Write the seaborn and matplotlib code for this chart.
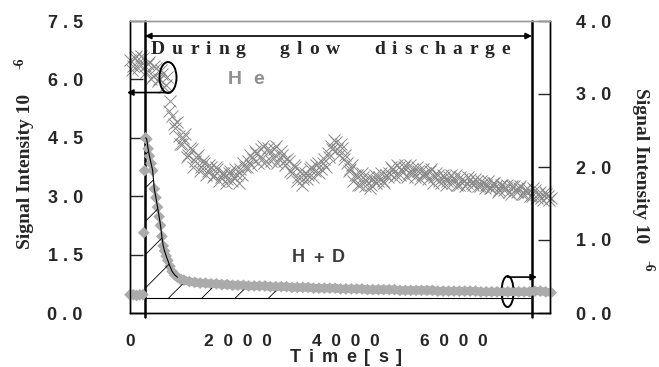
import numpy as np
import pandas as pd
import matplotlib
matplotlib.use("Agg")
import matplotlib.pyplot as plt
from matplotlib.patches import Ellipse
import seaborn as sns

# He signal (left axis, x10^-6): two interleaved scans, 60 s apart each
he_val_a = [6.5, 6.35, 6.6, 6.4, 6.55,
            6.2, 6.45, 6.1, 6.3, 6.0, 6.15, 5.85,
            5.2, 5.05, 4.75, 4.55, 4.35, 4.6, 4.05, 4.2, 3.9, 4.05,
            3.75, 3.85, 3.65, 3.75, 3.55, 3.7, 3.5, 3.6, 3.45, 3.65,
            3.5, 3.55, 3.7, 3.85, 3.75, 4.05, 3.95, 4.1, 4.0, 4.3,
            3.9, 4.15, 4.0, 4.3, 3.95, 4.05, 3.8, 3.9, 3.6, 3.75,
            3.5, 3.3, 3.6, 3.55, 3.75, 3.65, 3.85, 3.7, 3.95, 4.1,
            4.3, 4.45, 4.2, 4.35, 3.95, 3.85, 3.7, 3.4, 3.55, 3.3,
            3.5, 3.4, 3.2, 3.45, 3.35, 3.5, 3.4, 3.55, 3.6, 3.7,
            3.55, 3.75, 3.65, 3.8, 3.6, 3.7, 3.5, 3.65, 3.55, 3.6,
            3.45, 3.7, 3.5, 3.55, 3.35, 3.5, 3.4, 3.55, 3.45, 3.3,
            3.5, 3.4, 3.35, 3.45, 3.3, 3.4, 3.25, 3.35, 3.3, 3.2,
            3.35, 3.25, 3.15, 3.3, 3.2, 3.1, 3.25, 3.15, 3.2, 3.05,
            3.15, 3.1, 3.0, 3.15, 3.05, 2.95, 3.1, 3.0, 2.95]
he_val_b = [6.25, 6.55, 6.3, 6.6, 6.35,
            6.4, 6.0, 6.35, 5.95, 6.25, 5.8, 6.05,
            5.45, 4.85, 4.9, 4.35, 4.5, 4.0, 4.25, 3.75, 4.0, 3.65,
            3.9, 3.55, 3.8, 3.5, 3.75, 3.4, 3.6, 3.35, 3.6, 3.4, 3.7, 3.35,
            3.55, 3.75, 3.9, 3.8, 4.15, 3.85, 4.2,
            3.85, 4.25, 3.9, 4.2, 3.85, 4.15, 3.9,
            3.95, 3.65, 3.8, 3.4, 3.65, 3.45,
            3.45, 3.7, 3.5, 3.8, 3.6, 3.85, 3.75,
            4.0, 4.2, 4.4, 4.05, 4.25,
            4.05, 3.65, 3.8,
            3.55, 3.3, 3.6, 3.25, 3.5, 3.3, 3.55, 3.4, 3.6, 3.35, 3.5,
            3.75, 3.5, 3.8, 3.55, 3.75, 3.5, 3.8, 3.6, 3.75, 3.45, 3.7, 3.55, 3.65,
            3.35, 3.6, 3.4, 3.55, 3.3, 3.5, 3.35, 3.55, 3.3, 3.45, 3.25, 3.5,
            3.35, 3.45, 3.25, 3.4,
            3.2, 3.4, 3.2, 3.35, 3.1, 3.3, 3.15, 3.3, 3.05, 3.25, 3.1, 3.25,
            3.05, 3.2, 3.0, 3.2,
            2.95, 3.1, 2.9, 3.05, 2.9]
he_time_a = np.arange(len(he_val_a)) * 60
he_time_b = 30 + np.arange(len(he_val_b)) * 60

# H + D signal (right axis, x10^-6)
hd_time_early = [0, 60, 120, 180, 240, 255, 270, 290, 310, 335, 360, 390,
                 420, 450, 480, 510, 540, 565, 590, 615, 640, 670, 700,
                 740, 780, 830, 880, 940, 1000]
hd_val_early = [0.25, 0.25, 0.24, 0.25, 0.25, 1.1, 1.95, 2.4, 2.38, 2.25,
                2.15, 2.05, 1.95, 1.7, 1.58, 1.45, 1.32, 1.2, 1.05, 0.92,
                0.85, 0.78, 0.72, 0.64, 0.57, 0.52, 0.49, 0.46, 0.45]
hd_val_tail = [0.43, 0.42, 0.41, 0.41, 0.40, 0.40, 0.39, 0.39, 0.38, 0.38,
               0.38, 0.37, 0.37, 0.37, 0.37, 0.36, 0.36, 0.36, 0.36, 0.35,
               0.35, 0.35, 0.35, 0.34, 0.34, 0.34, 0.34, 0.34, 0.33, 0.33,
               0.33, 0.33, 0.33, 0.32, 0.32, 0.32, 0.32, 0.32, 0.32, 0.31,
               0.31, 0.31, 0.31, 0.31, 0.31, 0.31, 0.30, 0.30, 0.30, 0.30,
               0.30, 0.30, 0.30, 0.30, 0.29, 0.29, 0.29, 0.29, 0.29, 0.29,
               0.29, 0.29, 0.29, 0.29, 0.30, 0.30, 0.29, 0.28]
hd_time_tail = 1100 + np.arange(len(hd_val_tail)) * 100

discharge_start = 280
discharge_end = 7440
hatch_end = 3100
baseline = 0.205

left_ticks = [0, 1.5, 3.0, 4.5, 6.0, 7.5]
left_labels = ["0 . 0", "1 . 5", "3 . 0", "4 . 5", "6 . 0", "7 . 5"]
right_ticks = [0, 1, 2, 3, 4]
right_labels = ["0 . 0", "1 . 0", "2 . 0", "3 . 0", "4 . 0"]
x_ticks = [0, 2000, 4000, 6000]
x_labels = ["0", "2  0  0  0", "4  0  0  0", "6  0  0  0"]

he = pd.DataFrame({"t": np.concatenate([he_time_a, he_time_b]),
                   "v": he_val_a + he_val_b})
hd = pd.DataFrame({"t": np.concatenate([hd_time_early, hd_time_tail]),
                   "v": hd_val_early + hd_val_tail})

sns.set_style("white")
plt.rcParams["font.family"] = ["Liberation Sans", "DejaVu Sans"]
plt.rcParams["hatch.linewidth"] = 0.6

fig = plt.figure(figsize=(6.59, 3.67), dpi=100)
ax = fig.add_axes([130 / 659, 54 / 367, 420 / 659, 292 / 367])
ax2 = ax.twinx()
renderer = fig.canvas.get_renderer()


def tracked_text(x, y, s, gap, space, **kw):
    """Write s letter by letter from pixel (x, y) with extra gap between letters."""
    for ch in s:
        if ch == " ":
            x += space
            continue
        t = fig.text(x / 659, 1 - y / 367, ch, ha="left", va="center", **kw)
        x += t.get_window_extent(renderer).width + gap


# He crosses on the left axis
sns.scatterplot(data=he, x="t", y="v", ax=ax, marker="x", s=75,
                color="#8a8a8a", linewidth=0.7, clip_on=False, legend=False)

# H + D on the right axis
tail = hd[hd["t"] >= 880]
sns.lineplot(data=tail, x="t", y="v", ax=ax2, color="#ababab", lw=6,
             clip_on=False, legend=False)
sns.scatterplot(data=hd, x="t", y="v", ax=ax2, marker="D", s=36,
                color="#ababab", edgecolor="none", clip_on=False, legend=False)
decay = hd[(hd["t"] >= 290) & (hd["t"] <= 900)]
ax2.plot(decay["t"], decay["v"], color="black", lw=0.8)

# hatched area between baseline and the H + D curve
area = hd[(hd["t"] >= discharge_start) & (hd["t"] <= hatch_end)]
ax2.fill_between(area["t"], baseline, area["v"], facecolor="none",
                 edgecolor="black", hatch="/", linewidth=0)
ax2.hlines(baseline, discharge_start, discharge_end, color="black", lw=0.8)

for t in (discharge_start, discharge_end):
    ax.axvline(t, ymin=-0.012, ymax=1, color="black", lw=1.8, clip_on=False)

ax.set_xlim(0, 7780)
ax.set_ylim(0, 7.5)
ax2.set_ylim(0, 4)
for a in (ax, ax2):
    a.set_xlabel("")
    a.set_ylabel("")

tick_font = dict(family="Liberation Sans", weight="bold", size=13)
ax.set_yticks(left_ticks)
ax.set_yticklabels(left_labels, fontdict=tick_font)
ax2.set_yticks(right_ticks)
ax2.set_yticklabels(right_labels, fontdict=tick_font)
ax.set_xticks(x_ticks)
ax.set_xticklabels(x_labels, fontdict=dict(tick_font, size=12.5))
ax.tick_params(axis="y", direction="in", length=9, width=1, pad=34)
ax2.tick_params(axis="y", direction="in", length=9, width=1, pad=19)
ax.tick_params(axis="x", direction="in", length=5, width=1, pad=15)

for a in (ax, ax2):
    for side in ("left", "right", "bottom"):
        a.spines[side].set_color("black")
        a.spines[side].set_linewidth(1)
    a.spines["top"].set_color("#9a9a9a")
    a.spines["top"].set_linewidth(1)

# axis titles
tracked_text(290, 358, "Time[s]", gap=8, space=0, family="Liberation Sans",
             weight="bold", size=13)
label_font = dict(family="Liberation Serif", weight="bold", size=14)
fig.text(26 / 659, 1 - 171 / 367, "Signal Intensity 10", rotation=90,
         ha="center", va="center", **label_font)
fig.text(20 / 659, 1 - 63 / 367, "-6", rotation=90, ha="center", va="center",
         family="Liberation Serif", weight="bold", size=10)
fig.text(641 / 659, 1 - 166 / 367, "Signal Intensity 10", rotation=270,
         ha="center", va="center", **label_font)
fig.text(648 / 659, 1 - 266 / 367, "-6", rotation=270, ha="center",
         va="center", family="Liberation Serif", weight="bold", size=10)

# annotations
tracked_text(151, 50, "During glow discharge", gap=7, space=27,
             family="Liberation Serif", weight="bold", size=14)
tracked_text(228, 80, "He", gap=11, space=0, color="#8f8f8f",
             family="Liberation Sans", weight="bold", size=14)
tracked_text(292, 258, "H + D", gap=3, space=5, color="#3a3a3a",
             family="Liberation Sans", weight="bold", size=13)

arrow = dict(color="black", lw=1.2, mutation_scale=9, shrinkA=0, shrinkB=0)
ax2.annotate("", xy=(0.0357, 0.9486), xytext=(0.957, 0.9486),
             xycoords="axes fraction", arrowprops=dict(arrow, arrowstyle="<|-|>"))
ax2.add_patch(Ellipse((0.0905, 0.8065), 0.0405, 0.106, transform=ax2.transAxes,
                      fill=False, edgecolor="black", lw=1.4))
ax2.annotate("", xy=(-0.007, 0.755), xytext=(0.095, 0.755),
             xycoords="axes fraction", annotation_clip=False,
             arrowprops=dict(arrow, arrowstyle="-|>"))
ax2.add_patch(Ellipse((0.899, 0.0736), 0.0286, 0.106, transform=ax2.transAxes,
                      fill=False, edgecolor="black", lw=1.4))
ax2.annotate("", xy=(0.969, 0.123), xytext=(0.899, 0.123),
             xycoords="axes fraction", arrowprops=dict(arrow, arrowstyle="-|>"))

fig.savefig("out.png", dpi=100)
